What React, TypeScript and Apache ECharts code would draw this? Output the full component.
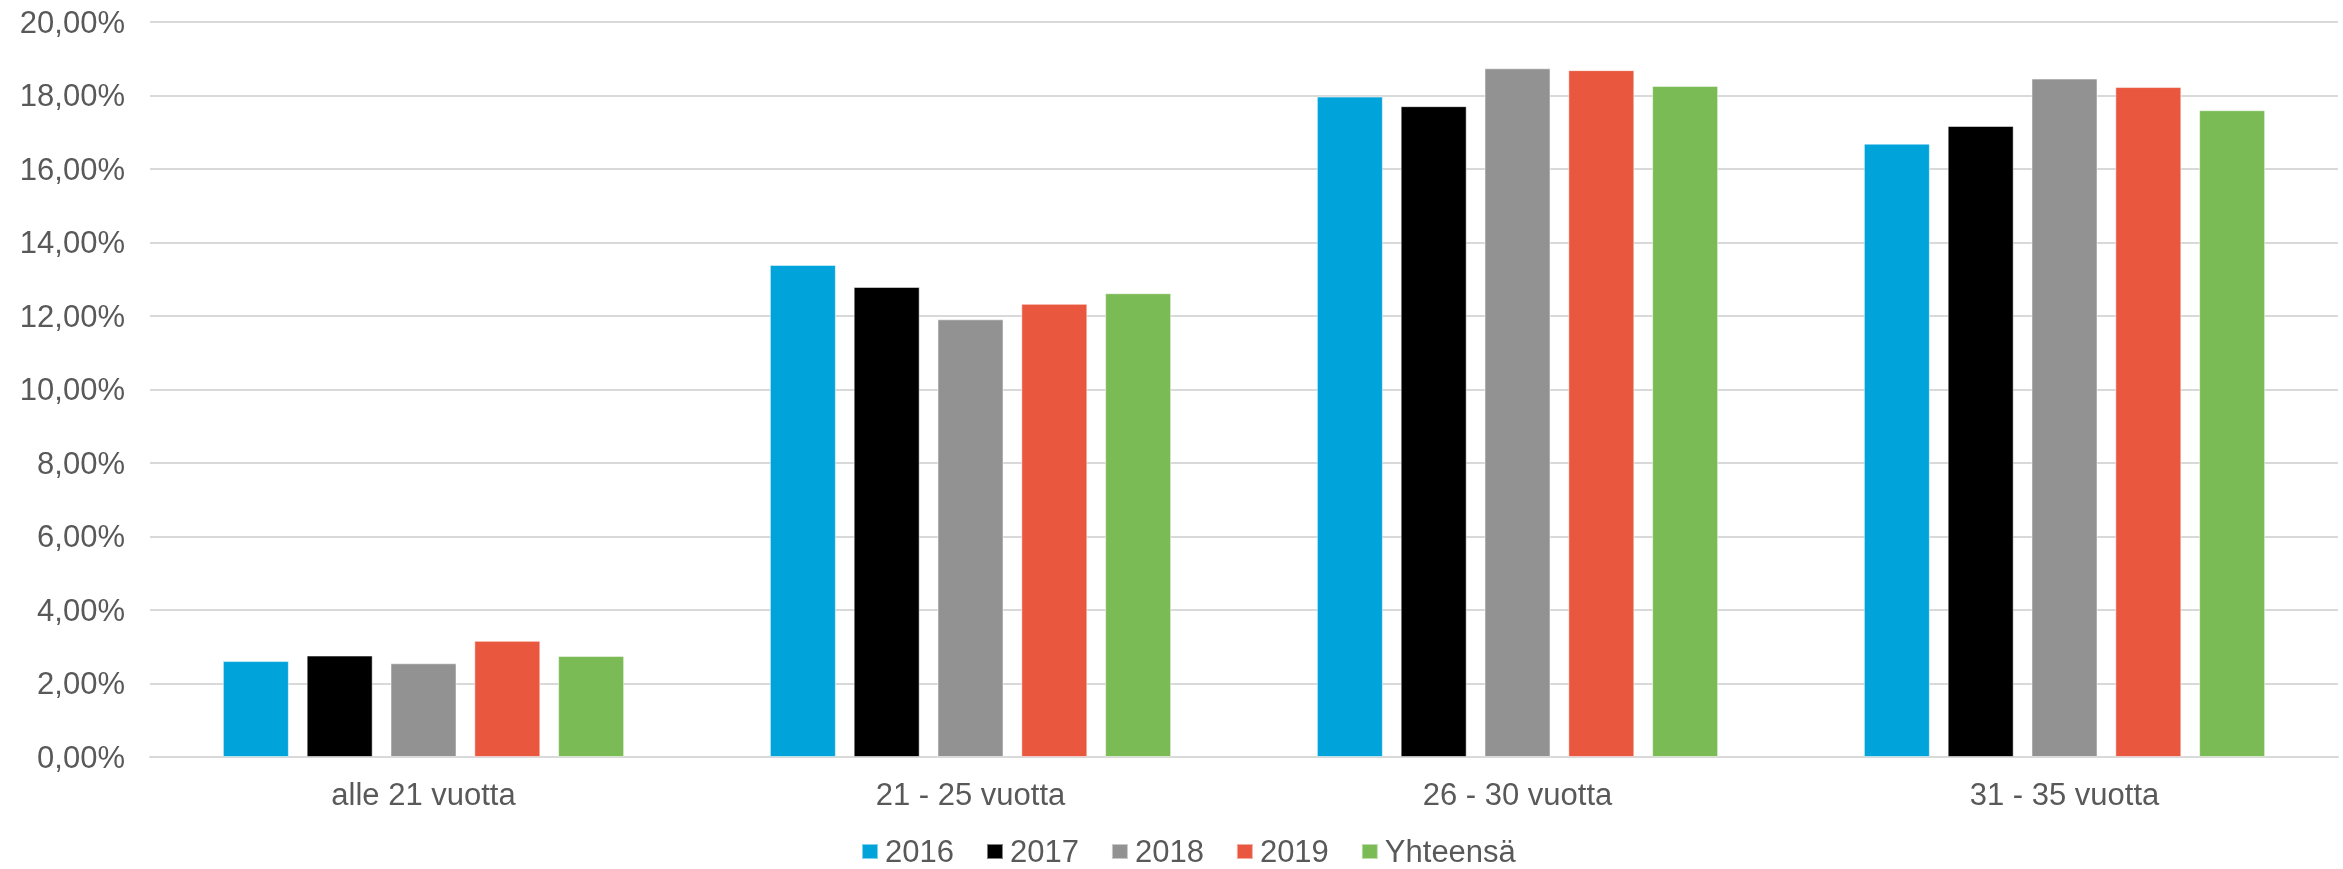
import React, { useEffect, useRef } from "react";
import * as echarts from "echarts";

const categories = ["alle 21 vuotta", "21 - 25 vuotta", "26 - 30 vuotta", "31 - 35 vuotta"];
const seriesNames = ["2016", "2017", "2018", "2019", "Yhteensä"];
const values2016 = [2.61, 13.39, 17.97, 16.69];
const values2017 = [2.76, 12.79, 17.71, 17.17];
const values2018 = [2.55, 11.91, 18.74, 18.46];
const values2019 = [3.16, 12.33, 18.69, 18.23];
const valuesTotal = [2.75, 12.62, 18.26, 17.6];
const colors = ["#00A3DA", "#000000", "#929292", "#E8573E", "#7ABB55"];

export default function App() {
  const ref = useRef<HTMLDivElement>(null);
  useEffect(() => {
    if (!ref.current) return;
    const chart = echarts.init(ref.current, undefined, { renderer: "svg" });
    const all = [values2016, values2017, values2018, values2019, valuesTotal];
    const font = "Liberation Sans, Arial, sans-serif";
    chart.setOption({
      animation: false,
      color: colors,
      textStyle: { fontFamily: font },
      grid: { left: 150, right: 5, top: 22, bottom: 112, containLabel: false },
      legend: {
        data: seriesNames,
        top: 836,
        left: 861,
        padding: 0,
        itemWidth: 16,
        itemHeight: 15,
        itemGap: 32,
        icon: "rect",
        textStyle: {
          fontSize: 31,
          lineHeight: 26,
          color: "#595959",
          fontFamily: font,
          padding: [0, 0, 0, 2],
        },
      },
      xAxis: {
        type: "category",
        data: categories,
        axisTick: { show: false },
        axisLine: { show: true, lineStyle: { color: "#d9d9d9", width: 2 } },
        axisLabel: { fontSize: 31, color: "#595959", margin: 22, fontFamily: font },
      },
      yAxis: {
        type: "value",
        min: 0,
        max: 20,
        interval: 2,
        axisLine: { show: false },
        axisTick: { show: false },
        splitLine: { lineStyle: { color: "#d9d9d9", width: 2 } },
        axisLabel: {
          fontSize: 31,
          color: "#595959",
          margin: 25,
          fontFamily: font,
          formatter: (v: number) => v.toFixed(2).replace(".", ",") + "%",
        },
      },
      series: seriesNames.map((name, i) => ({
        name,
        type: "bar",
        data: all[i],
        barWidth: 66,
        barGap: "27%",
        itemStyle: { color: colors[i], borderColor: "rgba(255,255,255,0.5)", borderWidth: 1 },
      })),
    });
    return () => chart.dispose();
  }, []);
  return <div ref={ref} style={{ position: "fixed", left: 0, top: 0, width: 2343, height: 869 }} />;
}
